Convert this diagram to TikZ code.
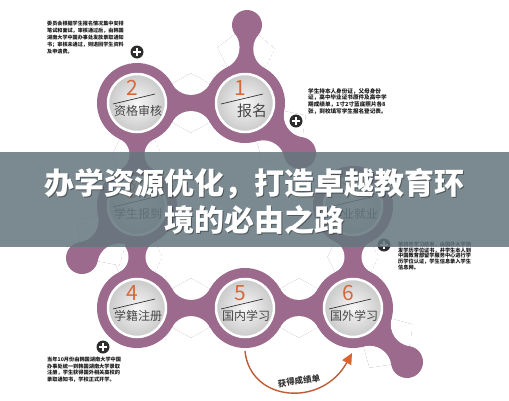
\documentclass[tikz,border=0pt]{standalone}
\usepackage{fontspec}
\newfontfamily\cjk{Noto Sans CJK SC}
\usetikzlibrary{intersections,arrows.meta,calc}
\definecolor{ringc}{RGB}{155,106,140}
\definecolor{numc}{RGB}{214,105,60}
\definecolor{arrc}{RGB}{190,92,55}
\definecolor{tipc}{RGB}{222,98,45}
\definecolor{bandc}{RGB}{100,118,125}
\definecolor{plusc}{RGB}{45,45,45}
\tikzset{
  stepdisc/.style={circle, minimum size=58pt, inner sep=0pt, draw=white, line width=2.5pt, inner color=gray!6, outer color=gray!42},
  numtxt/.style={font=\cjk\fontsize{21}{21}\selectfont, text=numc, inner sep=0pt},
  steptxt/.style={text=black!72, inner sep=0pt},
  sepline/.style={draw=black!80, line width=0.7pt},
  infotxt/.style={align=left, anchor=north west, inner sep=0pt, text=black!90},
  titletxt/.style={font=\cjk\bfseries\fontsize{30}{37}\selectfont, align=center, inner sep=0pt},
  plusbtn/.style={circle, fill=plusc, minimum size=13pt, inner sep=0pt,
    path picture={\draw[white, line width=2.2pt]
      ([xshift=-4pt]path picture bounding box.center) -- ([xshift=4pt]path picture bounding box.center)
      ([yshift=-4pt]path picture bounding box.center) -- ([yshift=4pt]path picture bounding box.center);}},
  arrline/.style={draw=arrc, line width=1.4pt, -{Triangle[length=11pt,width=10pt,color=tipc]}},
}
\newcommand\blobneck[5]{%
  \pgfmathsetmacro\nra{#3+#5}%
  \pgfmathsetmacro\nrb{#4+#5}%
  \path[name path=npa] (#1) circle[radius=\nra pt];
  \path[name path=npb] (#2) circle[radius=\nrb pt];
  \path[name intersections={of=npa and npb, by={#1#2p,#1#2q}}];
  \begin{scope}
    \clip (#1) -- (#1#2p) -- (#2) -- (#1#2q) -- cycle;
    \fill[ringc] (#1) -- (#1#2p) -- (#2) -- (#1#2q) -- cycle;
    \fill[white] (#1#2p) circle[radius=#5pt] (#1#2q) circle[radius=#5pt];
  \end{scope}
}
\newcommand\stepball[6]{%
  \node[stepdisc] (#1) at (#2) {};
  \node[numtxt] (#1n) at ($(#1)+(-5,-15)$) {#3};
  \draw[sepline] ($(#1)+(-24,1)$) -- ($(#1)+(18,-9)$);
  \node[steptxt, font=\cjk\fontsize{#5}{#5}\selectfont] (#1t) at ($(#1)+(#6,8)$) {#4};
}
\begin{document}
\begin{tikzpicture}[x=1pt,y=-1pt]
\useasboundingbox (0,0) rectangle (509,400);
\fill[white] (0,0) rectangle (509,400);
% centres
\coordinate (c1) at (245,103);
\coordinate (c2) at (137,103);
\coordinate (c3) at (137,206);
\coordinate (c4) at (137,308);
\coordinate (c5) at (245,308);
\coordinate (c6) at (353,308);
\coordinate (c7) at (353,206);
\coordinate (k1) at (247,25);
\coordinate (k2) at (300,153);
\coordinate (k3) at (82,258);
\coordinate (k4) at (407,362);
% necks
\blobneck{c2}{c1}{40}{40}{21.6}
\blobneck{c2}{c3}{40}{40}{17}
\blobneck{c3}{c4}{40}{40}{17}
\blobneck{c4}{c5}{40}{40}{21.6}
\blobneck{c5}{c6}{40}{40}{21.6}
\blobneck{c6}{c7}{40}{40}{17}
\blobneck{c1}{k1}{40}{15}{22}
\blobneck{c1}{k2}{40}{16}{22}
\blobneck{c3}{k3}{40}{16}{22}
\blobneck{c6}{k4}{40}{16}{22}
% rings and knobs
\foreach \c in {c1,c2,c3,c4,c5,c6,c7} \fill[ringc] (\c) circle[radius=40pt];
\fill[ringc] (k1) circle[radius=15pt];
\foreach \c in {k2,k3,k4} \fill[ringc] (\c) circle[radius=16pt];
% step discs
\stepball{s1}{c1}{1}{报名}{15}{7}
\stepball{s2}{c2}{2}{资格审核}{12}{1}
\stepball{s3}{c3}{3}{学生报到}{12}{1}
\stepball{s4}{c4}{4}{学籍注册}{12}{1}
\stepball{s5}{c5}{5}{国内学习}{12}{1}
\stepball{s6}{c6}{6}{国外学习}{12}{1}
\stepball{s7}{c7}{7}{毕业就业}{12}{1}
% arrow
\coordinate (a0) at (245,351);
\coordinate (a1) at (352,353);
\draw[arrline] (a0) .. controls (250,402) and (322,408) .. (a1);
\node[font=\cjk\bfseries\fontsize{8.5}{8.5}\selectfont, text=black!80, rotate=8, inner sep=0pt] (albl) at (299,381) {获得成绩单};
% info texts
\node[infotxt, font=\cjk\bfseries\fontsize{5.1}{7}\selectfont] (inf2) at (47,21)
  {委员会根据学生报名情况集中安排\\笔试和面试，审核通过后，由韩国\\湖南大学中国办事处发放录取通知\\书；审核未通过，则退回学生资料\\及申请费。};
\node[infotxt, font=\cjk\bfseries\fontsize{5.6}{6.7}\selectfont] (inf1) at (308,88)
  {学生持本人身份证，父母身份\\证，高中毕业证书原件及高中学\\期成绩单，1寸2寸蓝底照片各8\\张，到校填写学生报名登记表。};
\node[infotxt, font=\cjk\bfseries\fontsize{5.2}{6.6}\selectfont] (inf4) at (47,357)
  {当年10月份由韩国湖南大学中国\\办事处统一到韩国湖南大学录取\\注册，学生获得国外相关高校的\\录取通知书，学校正式开学。};
\node[infotxt, font=\cjk\bfseries\fontsize{5.2}{5.6}\selectfont] (inf7) at (398,242)
  {第四年学习结束，由国外大学颁\\发学历学位证书，并学生本人到\\中国教育部留学服务中心进行学\\历学位认证，学生信息录入学生\\信息网。};
% plus buttons
\node[plusbtn] (pl2) at (137,52) {};
\node[plusbtn] (pl1) at (296,121) {};
\node[plusbtn] (pl4) at (103,347) {};
\node[plusbtn] (pl7) at (384,245) {};
% banner
\fill[bandc, opacity=0.85] (0,152) rectangle (509,247);
\node[titletxt, text=black, opacity=0.35] (tsh) at (255.3,202.3) {办学资源优化，打造卓越教育环\\境的必由之路};
\node[titletxt, text=white] (ttl) at (254.5,201.5) {办学资源优化，打造卓越教育环\\境的必由之路};
\end{tikzpicture}
\end{document}
